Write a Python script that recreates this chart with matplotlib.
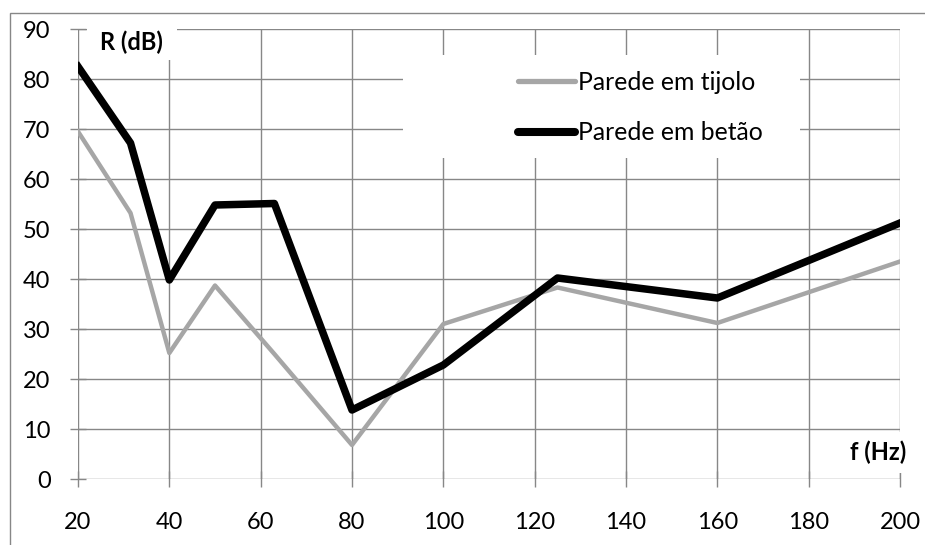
import matplotlib
matplotlib.use("Agg")
import matplotlib.pyplot as plt
from matplotlib.patches import Rectangle
from matplotlib.lines import Line2D

plt.rcParams['font.family'] = ['Lato', 'DejaVu Sans']

# Third-octave band centre frequencies (Hz) and sound reduction index R (dB)
freq = [20, 31.5, 40, 50, 63, 80, 100, 125, 160, 200]
r_tijolo = [69.5, 53.2, 25.2, 38.7, 25.0, 6.8, 31.0, 38.3, 31.2, 43.5]
r_betao = [82.5, 67.2, 39.8, 54.8, 55.1, 13.8, 22.8, 40.2, 36.2, 51.2]

x_ticks = [20, 40, 60, 80, 100, 120, 140, 160, 180, 200]
y_ticks = [0, 10, 20, 30, 40, 50, 60, 70, 80, 90]
series_names = ["Parede em tijolo", "Parede em betão"]

W, H = 925, 545
GRID = "#878787"
GRAY = "#A6A6A6"
FS = 17
FS_LEG = 17.8

fig = plt.figure(figsize=(W / 100, H / 100), dpi=100)
ax = fig.add_axes([78 / W, 1 - 479 / H, (900 - 78) / W, (479 - 29) / H])

ax.plot(freq, r_tijolo, color=GRAY, lw=3.2, solid_joinstyle="round",
        label=series_names[0], zorder=3)
ax.plot(freq, r_betao, color="black", lw=5.4, solid_joinstyle="round",
        label=series_names[1], zorder=4)

ax.set_xlim(x_ticks[0], x_ticks[-1])
ax.set_ylim(y_ticks[0], y_ticks[-1])
ax.set_xticks(x_ticks)
ax.set_yticks(y_ticks)
ax.set_axisbelow(True)
ax.grid(True, color=GRID, lw=1.0)
for s in ax.spines.values():
    s.set_visible(False)
ax.tick_params(axis="both", direction="inout", length=11.5, width=1.0,
               color=GRID, labelsize=FS, labelcolor="black")
ax.tick_params(axis="x", pad=18)
ax.tick_params(axis="y", pad=14)


def fig_box(x0, y0, x1, y1, **kw):
    """Box in pixel coordinates (top-left origin)."""
    r = Rectangle((x0 / W, 1 - y1 / H), (x1 - x0) / W, (y1 - y0) / H,
                  transform=fig.transFigure, **kw)
    fig.add_artist(r)
    return r


# Outer chart frame
fig_box(10, 13, 940, 560, facecolor="none", edgecolor=GRID, lw=1.0, zorder=0)

# Axis title boxes
fig_box(87, 20, 177, 60, facecolor="white", edgecolor="none", zorder=5)
fig.text(100 / W, 1 - 42 / H, "R (dB)", fontsize=FS, fontweight="bold",
         va="center", ha="left", zorder=6)
fig_box(825, 432, 905, 473, facecolor="white", edgecolor="none", zorder=5)
fig.text(906 / W, 1 - 452 / H, "f (Hz)", fontsize=FS, fontweight="bold",
         va="center", ha="right", zorder=6)

# Legend background
fig_box(403, 55, 800, 158, facecolor="white", edgecolor="none", zorder=5)
handles = [Line2D([], [], color=GRAY, lw=3.8, solid_capstyle="round"),
           Line2D([], [], color="black", lw=5.8, solid_capstyle="round")]
fs_px = FS_LEG * 100 / 72
leg = fig.legend(handles, series_names, loc="upper left",
                 bbox_to_anchor=(518 / W, 1 - 71 / H), frameon=False,
                 fontsize=FS_LEG, handlelength=57 / fs_px,
                 handletextpad=3 / fs_px, labelspacing=1.1,
                 borderpad=0, borderaxespad=0)
leg.set_zorder(7)

fig.savefig("out.png", dpi=100)
